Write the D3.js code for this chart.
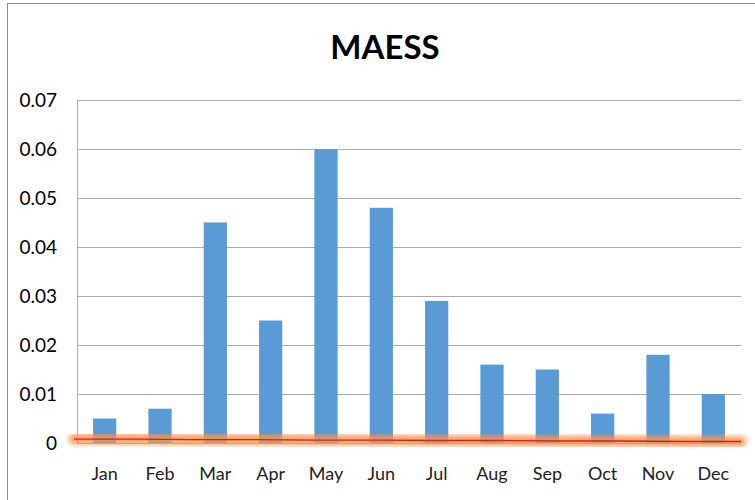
<!DOCTYPE html>
<html>
<head>
<meta charset="utf-8">
<script src="https://cdn.jsdelivr.net/npm/d3@7"></script>
<style>
  body { margin: 0; background: #fff; }
  text { font-family: Lato, "Open Sans", sans-serif; }
</style>
</head>
<body>
<div id="chart"></div>
<script>
var months = ['Jan','Feb','Mar','Apr','May','Jun','Jul','Aug','Sep','Oct','Nov','Dec'];
var values = [0.005, 0.007, 0.045, 0.025, 0.060, 0.048, 0.029, 0.016, 0.015, 0.006, 0.018, 0.010];
var lineValues = [0.0005, 0.0005, 0.0004, 0.0004, 0.0003, 0.0003, 0.0002, 0.0002, 0.0001, 0.0001, 0.0000, 0.0000];
var yTicks = [0, 0.01, 0.02, 0.03, 0.04, 0.05, 0.06, 0.07];
var title = 'MAESS';

var W = 755, H = 500;
var plot = {left: 77, right: 741, top: 100, bottom: 443};

var svg = d3.select('#chart').append('svg')
  .attr('width', W).attr('height', H);

// glow filter for the red line
var defs = svg.append('defs');
defs.append('filter').attr('id', 'glow')
  .attr('x', '-5%').attr('y', '-200%').attr('width', '110%').attr('height', '500%')
  .append('feGaussianBlur').attr('stdDeviation', 2.5);

// chart border
svg.append('rect')
  .attr('x', 7.5).attr('y', 3.5)
  .attr('width', W + 10).attr('height', H + 10)
  .attr('fill', 'none')
  .attr('stroke', '#8c8c8c')
  .attr('stroke-width', 1);

var x = d3.scaleBand()
  .domain(months)
  .range([plot.left, plot.right])
  .paddingInner(0.58)
  .paddingOuter(0.29);

var y = d3.scaleLinear()
  .domain([0, 0.07])
  .range([plot.bottom, plot.top]);

// grid
svg.append('g')
  .selectAll('line')
  .data(yTicks)
  .enter().append('line')
  .attr('x1', plot.left).attr('x2', plot.right)
  .attr('y1', function(d){ return Math.round(y(d)) + 0.5; })
  .attr('y2', function(d){ return Math.round(y(d)) + 0.5; })
  .style('stroke', '#ababab')
  .style('stroke-width', '1px');

svg.append('line')
  .attr('x1', plot.left + 0.5).attr('x2', plot.left + 0.5)
  .attr('y1', plot.top).attr('y2', plot.bottom)
  .style('stroke', '#ababab');

// y labels
svg.append('g')
  .selectAll('text')
  .data(yTicks)
  .enter().append('text')
  .attr('x', 57)
  .attr('y', function(d){ return y(d); })
  .attr('dy', '0.36em')
  .attr('text-anchor', 'end')
  .style('font-size', '19px')
  .style('fill', '#000')
  .text(function(d){ return d === 0 ? '0' : d3.format('.2f')(d); });

// bars
svg.append('g')
  .selectAll('rect')
  .data(values)
  .enter().append('rect')
  .attr('x', function(d, i){ return x(months[i]); })
  .attr('width', x.bandwidth())
  .attr('y', function(d){ return y(d); })
  .attr('height', function(d){ return y(0) - y(d); })
  .attr('fill', '#5b9bd5');

// x labels
svg.append('g')
  .selectAll('text')
  .data(months)
  .enter().append('text')
  .attr('x', function(d){ return x(d) + x.bandwidth() / 2; })
  .attr('y', 480)
  .attr('text-anchor', 'middle')
  .style('font-size', '18px')
  .style('fill', '#222')
  .text(function(d){ return d; });

// red line with orange glow
var lx = d3.scalePoint().domain(months).range([plot.left - 3, plot.right]);
var line = d3.line()
  .x(function(d, i){ return lx(months[i]); })
  .y(function(d){ return y(d) - 1.5; });

svg.append('path')
  .datum(lineValues)
  .attr('d', line)
  .attr('fill', 'none')
  .attr('stroke', '#f7944f')
  .attr('stroke-opacity', 0.85)
  .attr('stroke-width', 11)
  .attr('stroke-linecap', 'round')
  .attr('filter', 'url(#glow)');

svg.append('path')
  .datum(lineValues)
  .attr('d', line)
  .attr('fill', 'none')
  .attr('stroke', '#d62020')
  .attr('stroke-width', 1.3);

// title
svg.append('text')
  .attr('x', 385)
  .attr('y', 59)
  .attr('text-anchor', 'middle')
  .style('font-size', '33px')
  .style('font-weight', 'bold')
  .style('fill', '#000')
  .text(title);
</script>
</body>
</html>
